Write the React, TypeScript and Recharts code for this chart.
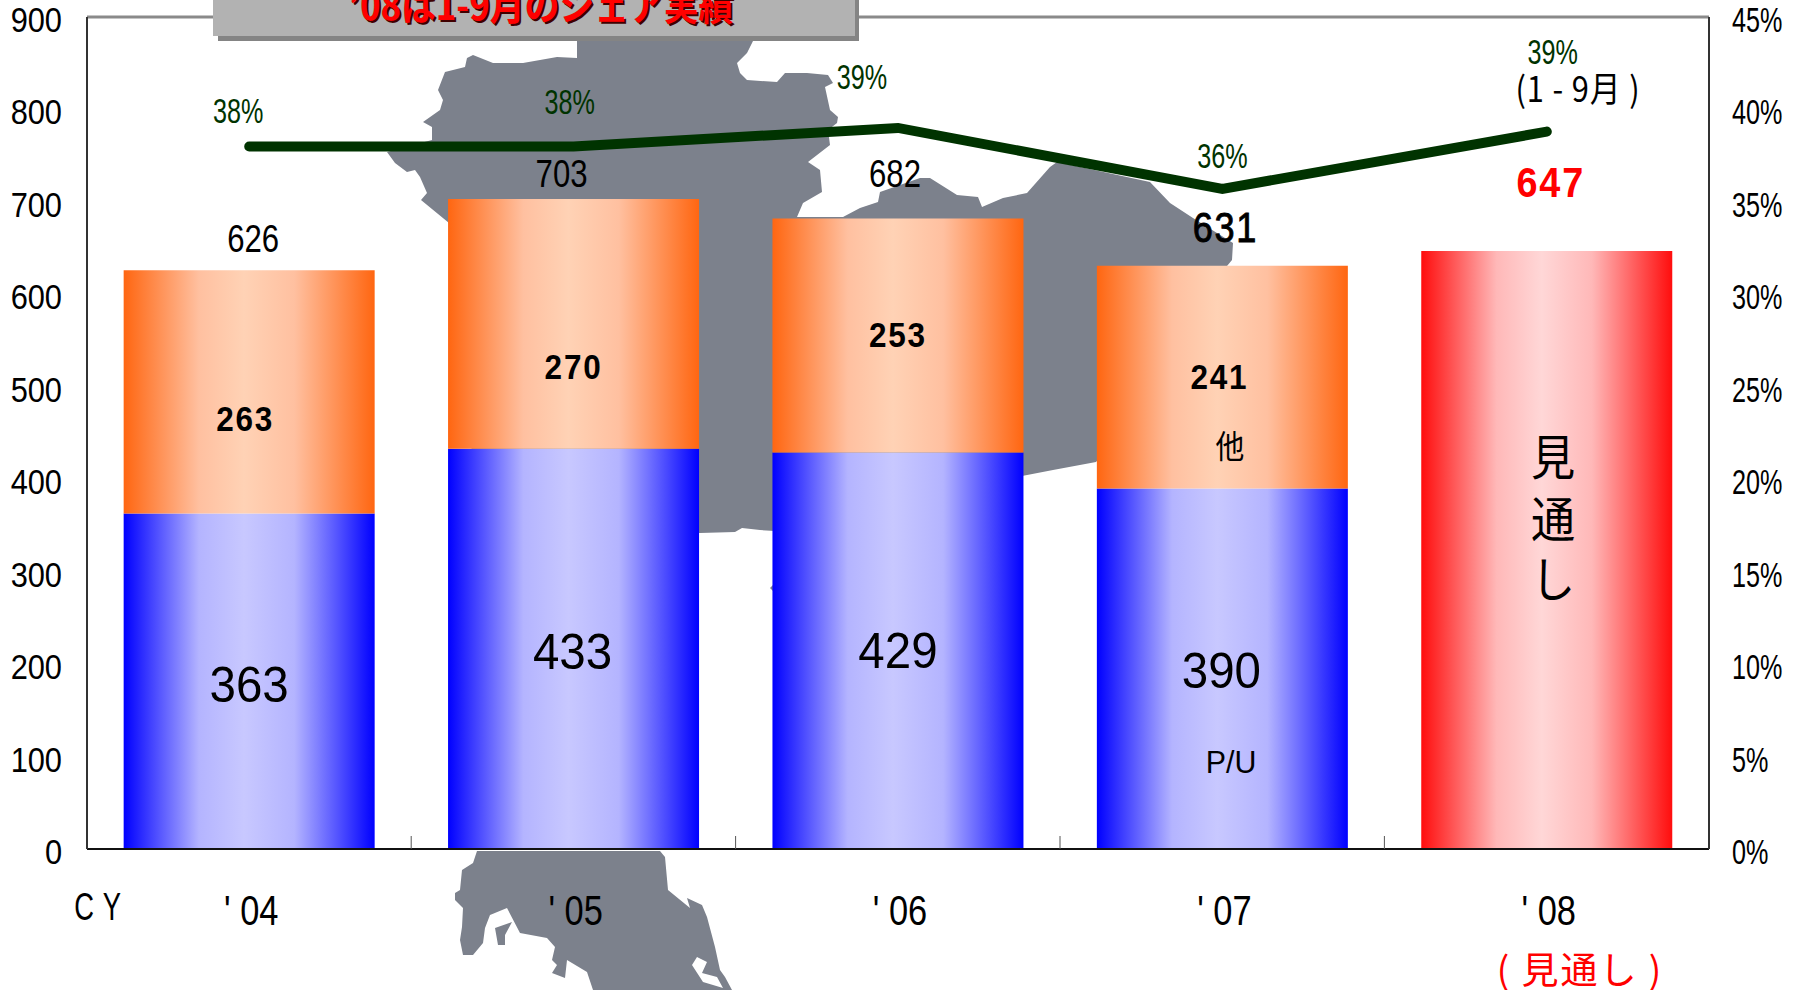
import React from 'react';
import { Bar, CartesianGrid, ComposedChart, LabelList, Line, ReferenceLine, XAxis, YAxis } from 'recharts';

const years = ["'04", "'05", "'06", "'07", "'08"];
const pickups = [363, 433, 429, 390, null];
const others = [263, 270, 253, 241, null];
const forecast = [null, null, null, null, 647];
const totals = [626, 703, 682, 631, 647];
const share = [38, 38, 39, 35.7, 38.8];

const leftTicks = [0, 100, 200, 300, 400, 500, 600, 700, 800, 900];
const rightTicks = [0, 5, 10, 15, 20, 25, 30, 35, 40, 45];

const data = years.map((year, i) => ({
  year,
  pickup: pickups[i],
  other: others[i],
  forecast: forecast[i],
  share: share[i],
}));

// label nudges from the bar top / line point
const pickupOffset = [[0, 171], [-1, 202], [0, 198], [-1, 182]];
const otherOffset = [[-4, 148], [0, 167], [0, 116], [-3, 111]];
const totalOffset = [[4, -32], [-12, -26], [-3, -45], [3, -39]];
const forecastOffset = [[4, -69], [4, -69], [4, -69], [4, -69], [4, -69]];
const shareOffset = [[-11, -36], [-4, -45], [-36, -51], [0, -33], [6, -80]];

// background map, outline traced by hand
const mapNorth =
  '577,41 753,41 747,53 737,63 740,73 747,80 777,82 785,73 807,73 828,75 833,83 825,87 830,110 838,117 837,123 828,130 830,145 808,162 820,170 822,192 803,203 797,217 843,217 860,208 878,202 880,192 920,178 930,178 957,195 978,197 982,207 1003,198 1027,193 1050,167 1057,162 1150,182 1170,203 1193,218 1233,243 1232,260 1227,266 1150,400 1096,462 1053,470 1022,476 900,500 790,533 775,531 760,530 742,528 735,532 700,533 480,533 449,225 449,223 421,200 427,193 420,177 415,170 407,172 395,163 387,152 432,140 432,127 423,122 440,110 443,100 438,90 445,72 465,67 467,58 473,55 493,63 523,63 557,57 577,58';
const mapSouth =
  '477,851 473,863 462,870 460,890 455,893 455,900 463,908 462,927 460,940 463,955 473,955 483,943 485,928 490,915 507,908 520,933 547,938 555,947 552,960 557,965 552,973 565,978 567,960 587,972 593,990 732,990 725,977 720,970 715,947 707,917 702,905 687,898 690,908 668,890 665,857 660,851';
const mapLake = '692,965 697,957 707,962 702,973 717,977 723,988 703,982';
const mapIsland = '495,928 512,922 505,935 505,945 498,945';
const mapBump = '770,588 774,584 790,584 790,592 774,592';

const SANS = '"Liberation Sans", Arial, sans-serif';
const CJK = '"Noto Sans CJK JP", "Liberation Sans", sans-serif';

const Squeezed = ({ x, y, size, sx = 0.84, anchor = 'middle', fill = '#000', weight = 400, family = SANS, spacing = 0, stroke, children }: any) => (
  <text
    transform={`translate(${x} ${y + size * 0.358}) scale(${sx} 1)`}
    textAnchor={anchor}
    fontSize={size}
    fontFamily={family}
    fontWeight={weight}
    fill={fill}
    letterSpacing={spacing}
    stroke={stroke}
    strokeWidth={stroke ? 0.9 : undefined}
    xmlSpace="preserve"
  >
    {children}
  </text>
);

const LeftTick = ({ x, y, payload }: any) => (
  <Squeezed x={x - 25} y={y + 2.5} size={35} sx={0.88} anchor="end">{payload.value}</Squeezed>
);

const RightTick = ({ x, y, payload }: any) => (
  <Squeezed x={x + 23} y={y + 2.5} size={35} sx={0.72} anchor="start">{payload.value}%</Squeezed>
);

const YearTick = ({ x, y, payload, index }: any) => (
  <g>
    {index < years.length - 1 && <line x1={x + 162} x2={x + 162} y1={y} y2={y - 13} stroke="#555" />}
    <Squeezed x={x + 2} y={y + 61} size={42} sx={0.82}>{String(payload.value).replace("'", "' ")}</Squeezed>
  </g>
);

const makeLabel = (offsets: number[][], text: (v: any, i: number) => any, style: any) => (props: any) => {
  const { x, y, width, index, value } = props;
  if (value == null || !offsets[index]) return null;
  const [dx, dy] = offsets[index];
  return (
    <Squeezed x={x + (width || 0) / 2 + dx} y={y + dy} {...(style[index] || style)}>
      {text(value, index)}
    </Squeezed>
  );
};

const pickupLabel = makeLabel(pickupOffset, (v) => v, { size: 50, sx: 0.95 });
const otherLabel = makeLabel(otherOffset, (v) => v, { size: 35, sx: 0.9, weight: 700, spacing: 2 });
const totalLabel = makeLabel(totalOffset, (_, i) => totals[i], [
  { size: 38, sx: 0.82 },
  { size: 38, sx: 0.82 },
  { size: 38, sx: 0.82 },
  { size: 42, sx: 0.86, stroke: '#000', spacing: 2 },
]);
const forecastLabel = makeLabel(forecastOffset, (v) => v, { size: 42, sx: 0.9, weight: 700, fill: '#ff0000', spacing: 2 });
const shareLabel = makeLabel(shareOffset, (v) => `${Math.round(v)}%`, { size: 35, sx: 0.72, fill: '#003300' });

const gradient = (id: string, edge: string, mid: string, centre: string) => (
  <linearGradient id={id} x1="0" y1="0" x2="1" y2="0">
    <stop offset="0%" stopColor={edge} />
    <stop offset="30%" stopColor={mid} />
    <stop offset="48%" stopColor={centre} />
    <stop offset="68%" stopColor={mid} />
    <stop offset="100%" stopColor={edge} />
  </linearGradient>
);

const App = () => {
  return (
    <div style={{ position: 'absolute', left: 0, top: 0, width: 1801, height: 990, overflow: 'hidden', background: '#fff' }}>
      <svg width={1801} height={990} style={{ position: 'absolute', left: 0, top: 0 }}>
        <polygon points={mapNorth} fill="#7c818c" />
        <polygon points={mapBump} fill="#7c818c" />
        <polygon points={mapSouth} fill="#7c818c" />
        <polygon points={mapLake} fill="#fff" />
        <polygon points={mapIsland} fill="#7c818c" />
      </svg>
      <div style={{ position: 'absolute', left: 0, top: 0 }}>
        <ComposedChart width={1801} height={990} data={data} margin={{ top: 17, right: 0, bottom: 0, left: 0 }} barCategoryGap="11.3%">
          <defs>
            {gradient('blueFill', '#0000ff', '#b4b4ff', '#c8c8ff')}
            {gradient('orangeFill', '#ff6611', '#ffc0a0', '#ffd2b5')}
            {gradient('redFill', '#ff0d0d', '#ffb8b8', '#ffd7d7')}
          </defs>
          <CartesianGrid vertical={false} stroke="#333" syncWithTicks />
          <XAxis dataKey="year" height={141} tickSize={0} tickMargin={0} interval={0} axisLine={{ stroke: '#111', strokeWidth: 2 }} tick={YearTick} />
          <YAxis yAxisId="left" width={87} domain={[0, 900]} ticks={leftTicks} tickSize={0} tickMargin={0} interval={0} axisLine={{ stroke: '#333', strokeWidth: 2 }} tick={LeftTick} />
          <YAxis yAxisId="right" orientation="right" width={92} domain={[0, 45]} ticks={rightTicks} tickSize={0} tickMargin={0} interval={0} axisLine={{ stroke: '#333', strokeWidth: 2 }} tick={RightTick} />
          <ReferenceLine yAxisId="left" y={900} stroke="#8a8a8a" strokeWidth={3} />
          <Bar yAxisId="left" dataKey="pickup" stackId="a" fill="url(#blueFill)" isAnimationActive={false}>
            <LabelList dataKey="pickup" content={pickupLabel} />
          </Bar>
          <Bar yAxisId="left" dataKey="other" stackId="a" fill="url(#orangeFill)" isAnimationActive={false}>
            <LabelList dataKey="other" content={otherLabel} />
            <LabelList dataKey="other" content={totalLabel} />
          </Bar>
          <Bar yAxisId="left" dataKey="forecast" stackId="a" fill="url(#redFill)" isAnimationActive={false}>
            <LabelList dataKey="forecast" content={forecastLabel} />
          </Bar>
          <Line yAxisId="right" dataKey="share" stroke="#003300" strokeWidth={10} strokeLinecap="round" dot={false} activeDot={false} isAnimationActive={false}>
            <LabelList dataKey="share" content={shareLabel} />
          </Line>
        </ComposedChart>
      </div>
      <svg width={1801} height={990} style={{ position: 'absolute', left: 0, top: 0, pointerEvents: 'none' }}>
        <rect x={218} y={0} width={641} height={41} fill="#848484" />
        <rect x={213} y={0} width={642} height={36} fill="#b2b2b2" />
        <Squeezed x={543} y={8} size={40} sx={0.87} weight={700} family={CJK} fill="#400000">’08は1-9月のシェア実績</Squeezed>
        <Squeezed x={541} y={6} size={40} sx={0.87} weight={700} family={CJK} fill="#ff0000">’08は1-9月のシェア実績</Squeezed>
        <Squeezed x={102} y={906} size={38} sx={0.72} spacing={12}>CY</Squeezed>
        <Squeezed x={1578} y={89} size={35} sx={0.88} family={CJK} spacing={1}>(1 - 9月 )</Squeezed>
        <Squeezed x={1230} y={447} size={32} sx={0.9} family={CJK}>他</Squeezed>
        <Squeezed x={1231} y={762} size={32} sx={0.95}>P/U</Squeezed>
        <Squeezed x={1553} y={458} size={48} sx={0.92} family={CJK}>見</Squeezed>
        <Squeezed x={1553} y={520} size={48} sx={0.92} family={CJK}>通</Squeezed>
        <Squeezed x={1553} y={580} size={48} sx={0.92} family={CJK}>し</Squeezed>
        <Squeezed x={1580} y={971} size={37} sx={1} family={CJK} fill="#ff0000" spacing={2}>( 見通し )</Squeezed>
      </svg>
    </div>
  );
};

export default App;
